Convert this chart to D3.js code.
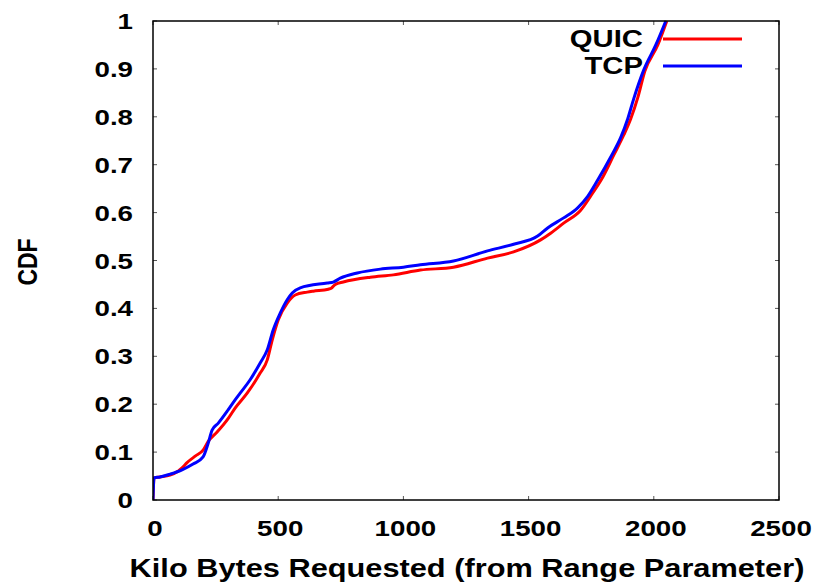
<!DOCTYPE html>
<html><head><meta charset="utf-8">
<script src="https://cdn.jsdelivr.net/npm/d3@7"></script>
<style>body{margin:0;background:#fff;} svg{display:block;}</style>
</head><body><svg id="c" width="822" height="585"></svg>
<script>
// ---- data ----
const seriesNames = ["QUIC", "TCP"];
const seriesColors = ["#ff0000", "#0000ff"];
const xTicks = [0, 500, 1000, 1500, 2000, 2500];
const yTicks = [0, 0.1, 0.2, 0.3, 0.4, 0.5, 0.6, 0.7, 0.8, 0.9, 1];
const quicX = [0,4,28,68,100,116,136,170,200,220,256,300,328,376,428,456,476,500,536,568,616,640,700,712,728,760,868,960,1068,1200,1336,1440,1548,1588,1640,1708,1756,1796,1840,1880,1908,1936,1964,2016,2052];
const quicY = [0,0.046,0.048,0.052,0.060,0.067,0.078,0.092,0.104,0.122,0.142,0.170,0.192,0.223,0.265,0.292,0.334,0.376,0.411,0.428,0.434,0.436,0.440,0.442,0.450,0.455,0.465,0.470,0.480,0.486,0.505,0.518,0.543,0.557,0.578,0.605,0.641,0.674,0.720,0.762,0.796,0.840,0.895,0.950,1.0];
const tcpX = [0,4,28,68,116,160,200,220,236,260,300,328,348,388,428,456,480,508,536,556,588,696,720,748,816,908,1000,1068,1200,1336,1440,1536,1576,1640,1696,1736,1776,1828,1868,1896,1920,1960,2008,2048];
const tcpY = [0,0.046,0.048,0.054,0.063,0.075,0.090,0.118,0.146,0.160,0.188,0.209,0.223,0.251,0.286,0.313,0.355,0.390,0.418,0.432,0.443,0.453,0.455,0.463,0.474,0.482,0.486,0.491,0.499,0.520,0.534,0.551,0.568,0.589,0.610,0.634,0.668,0.716,0.757,0.796,0.838,0.898,0.950,1.0];

// ---- layout ----
const L = 153, T = 21, R = 779, B = 500;
const FONT = "'Liberation Sans', Arial, Helvetica, sans-serif";
const svg = d3.select("#c");
const x = d3.scaleLinear().domain([0, 2500]).range([L, R]);
const y = d3.scaleLinear().domain([0, 1]).range([B, T]);

function stext(g, str, tx, ty, size, sx, anchor) {
  return g.append("text")
    .attr("transform", `translate(${tx},${ty}) scale(${sx},1)`)
    .attr("text-anchor", anchor)
    .attr("font-family", FONT).attr("font-weight", "bold")
    .attr("font-size", size).attr("fill", "#000").text(str);
}

// ticks (all four sides, inward)
const tk = svg.append("g").attr("stroke", "#555").attr("stroke-width", 1);
xTicks.forEach(v => {
  tk.append("line").attr("x1", x(v)).attr("x2", x(v)).attr("y1", B).attr("y2", B - 4);
  tk.append("line").attr("x1", x(v)).attr("x2", x(v)).attr("y1", T).attr("y2", T + 4);
});
yTicks.forEach(v => {
  tk.append("line").attr("x1", L).attr("x2", L + 4).attr("y1", y(v)).attr("y2", y(v));
  tk.append("line").attr("x1", R).attr("x2", R - 4).attr("y1", y(v)).attr("y2", y(v));
});

// tick labels
const lab = svg.append("g");
xTicks.forEach(v => stext(lab, String(v), x(v) + 2, 536, 22, 1.26, "middle"));
yTicks.forEach(v => stext(lab, String(v), 133, y(v) + 8, 22, 1.26, "end"));

// axis titles
stext(lab, "Kilo Bytes Requested (from Range Parameter)", 467, 577, 25, 1.23, "middle");
svg.append("text")
  .attr("transform", `translate(37,262) rotate(-90) scale(1,1.22)`)
  .attr("text-anchor", "middle").attr("font-family", FONT).attr("font-weight", "bold")
  .attr("font-size", 23).text("CDF");

// curves
svg.append("clipPath").attr("id", "pc").append("rect")
  .attr("x", L).attr("y", T - 2).attr("width", R - L).attr("height", B - T + 2);
const line = d3.line().x(d => x(d[0])).y(d => y(d[1])).curve(d3.curveMonotoneX);
const data = [d3.zip(quicX, quicY), d3.zip(tcpX, tcpY)];
const cg = svg.append("g").attr("clip-path", "url(#pc)");
data.forEach((d, i) => {
  cg.append("path").datum(d).attr("d", line).attr("fill", "none")
    .attr("stroke", seriesColors[i]).attr("stroke-width", 3).attr("stroke-linejoin", "round");
});

// frame
svg.append("rect").attr("x", L).attr("y", T).attr("width", R - L).attr("height", B - T)
  .attr("fill", "none").attr("stroke", "#000").attr("stroke-width", 1.5);

// legend
const lg = svg.append("g");
seriesNames.forEach((n, i) => {
  const ly = 39 + i * 27;
  stext(lg, n, 643, ly + 8, 24, 1.22, "end");
  lg.append("line").attr("x1", 663).attr("x2", 742).attr("y1", ly).attr("y2", ly)
    .attr("stroke", seriesColors[i]).attr("stroke-width", 3);
});
</script></body></html>
